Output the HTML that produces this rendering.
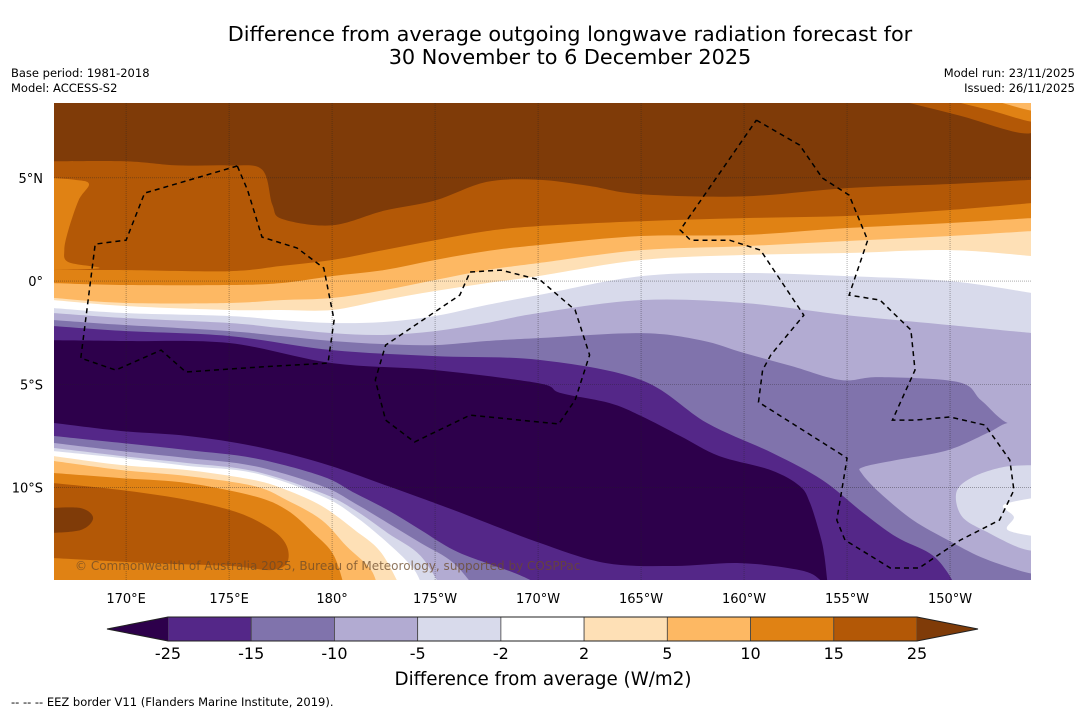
<!DOCTYPE html>
<html><head><meta charset="utf-8">
<style>
html,body{margin:0;padding:0;background:#fff;}
body{width:1085px;height:713px;overflow:hidden;font-family:"DejaVu Sans","Liberation Sans",sans-serif;}
svg text{font-family:"DejaVu Sans","Liberation Sans",sans-serif;}
</style></head>
<body>
<svg id="chart" width="1085" height="713" viewBox="0 0 1085 713" xmlns="http://www.w3.org/2000/svg">
  <text x="570" y="41" font-size="20.8" text-anchor="middle" fill="#000">Difference from average outgoing longwave radiation forecast for</text>
  <text x="570" y="64" font-size="20.8" text-anchor="middle" fill="#000">30 November to 6 December 2025</text>
  <text x="11" y="77" font-size="11.5">Base period: 1981-2018</text>
  <text x="11" y="92" font-size="11.5">Model: ACCESS-S2</text>
  <text x="1075" y="77" font-size="11.5" text-anchor="end">Model run: 23/11/2025</text>
  <text x="1075" y="92" font-size="11.5" text-anchor="end">Issued: 26/11/2025</text>
  <defs><clipPath id="mapclip"><rect x="54" y="103" width="977" height="477"/></clipPath></defs>
  <g id="map" clip-path="url(#mapclip)"></g>
  <g id="grid" clip-path="url(#mapclip)"></g>
  <g id="eez" clip-path="url(#mapclip)"></g>
  <text x="75" y="570" font-size="12" fill="#6b4a2a" fill-opacity="0.75">© Commonwealth of Australia 2025, Bureau of Meteorology, supported by COSPPac</text>
  <g id="axes"></g>
  <g id="cbar"></g>
  <text x="543" y="685" font-size="18.3" text-anchor="middle">Difference from average (W/m2)</text>
  <text x="11" y="706" font-size="11.5">--  --  -- EEZ border V11 (Flanders Marine Institute, 2019).</text>
</svg>
<script>
// ---- data: contour levels & colours ----
const levels = [-25,-15,-10,-5,-2,2,5,10,15,25];
const levelColors = ["#2d004b","#542788","#8073ac","#b2abd2","#d8daeb","#ffffff","#fee0b6","#fdb863","#e08214","#b35806","#7f3b08"];
const lonTicks = [170,175,180,185,190,195,200,205,210];
const lonTickLabels = ["170°E","175°E","180°","175°W","170°W","165°W","160°W","155°W","150°W"];
const latTicks = [5,0,-5,-10];
const latTickLabels = ["5°N","0°","5°S","10°S"];
// contour boundaries (upper edge of each band, lon/lat), northern side
const gridLon = [166.5,170,175,177.5,180,182.5,185,187.5,190,195,200,205,210,214];
const n1Lon = [166.5,170,172.5,175,176.6,177.1,177.6,180,182.5,185,187.5,190,192.5,195,200,205,210,214];
const n1Lat = [5.8,5.8,5.6,5.6,5.4,3.7,3.0,2.7,3.4,3.9,4.8,4.9,4.6,4.2,4.1,4.5,4.7,4.9];
const n2Lat = [0.53,0.53,0.48,0.73,1.02,1.5,1.98,2.42,2.66,2.9,3.05,3.15,3.44,3.78];
const n3Lat = [-0.1,-0.19,-0.19,-0.1,0.24,0.53,1.02,1.45,1.74,2.18,2.23,2.57,2.81,3.05];
const n4Lat = [-0.82,-1.06,-1.06,-0.92,-0.82,-0.44,0.05,0.53,0.87,1.5,1.69,1.94,2.18,2.42];
const n5Lat = [-0.92,-1.21,-1.4,-1.4,-1.4,-0.92,-0.48,-0.1,0.24,1.02,1.26,1.36,1.5,1.21];
const n6Lat = [-1.31,-1.55,-1.69,-1.89,-2.03,-1.98,-1.69,-1.16,-0.68,0.24,0.39,0.24,0,-0.58];
const n7Lat = [-1.55,-1.79,-2.03,-2.27,-2.52,-2.61,-2.42,-2.03,-1.55,-0.92,-1.06,-1.65,-2.13,-2.52];
const n8Lon = [166.5,170,175,177.5,180,182.5,185,187.5,190,195,197.9,200,202.3,204.7,206.6,210.4,211.5,212.8,214.2];
const n8Lat = [-1.89,-2.13,-2.42,-2.66,-2.9,-3.05,-3.1,-2.9,-2.76,-2.52,-2.86,-3.48,-4.11,-4.79,-4.65,-4.89,-5.76,-6.87,-6.87];
const n9Lon = [166.5,170,175,180,185,190.1,195,198.2,201.4,203.8,205.8,207.4,209,209.8,210.5];
const n9Lat = [-2.18,-2.42,-2.66,-3.34,-3.63,-3.82,-4.79,-6.87,-8.33,-9.63,-11.23,-12.39,-13.17,-13.99,-15.2];
const n10Lon = [166.5,170,175,180,185,190,191.1,193.5,195,196.9,198.8,201.3,202.7,203.2,203.7,203.9,204.1];
const n10Lat = [-2.86,-2.9,-3.0,-3.97,-4.31,-4.94,-5.42,-5.91,-6.53,-7.5,-8.47,-9.15,-9.92,-10.74,-12.34,-13.31,-15.1];
// southern side boundaries
const s1Lon = [166.5,169.8,173,176.2,179.5,182.7,185.9,190.1,193.3,196.6,199.8,202.7,203.7,204.2];
const s1Lat = [-6.87,-7.26,-7.5,-7.99,-8.81,-9.92,-11.08,-12.68,-13.65,-13.79,-13.65,-13.99,-14.47,-15.2];
const s2Lon = [166.5,169.8,173,176.2,179.5,181.1,182.7,184.3,185.9,187.5,189.1,191.1];
const s2Lat = [-7.5,-7.84,-8.18,-8.57,-9.44,-10.26,-11.08,-12.05,-13.02,-13.65,-14.23,-15.2];
const s3Lon = [166.5,169.8,173,176.2,179.5,181.1,182.7,184.3,185.9,187.2];
const s3Lat = [-7.84,-8.23,-8.57,-8.95,-9.92,-10.75,-11.71,-12.68,-13.65,-15.2];
const s4Lon = [166.5,169.8,173,176.2,179.5,181.1,182.7,184.3,185.5];
const s4Lat = [-8.08,-8.47,-8.81,-9.2,-10.26,-11.08,-12.2,-13.31,-15.2];
const s5Lon = [166.5,169.8,173,176.2,179.5,181.1,182.7,184,184.5];
const s5Lat = [-8.23,-8.57,-8.95,-9.29,-10.41,-11.37,-12.68,-13.99,-15.2];
const s6Lon = [166.5,169.8,173,176.2,177.8,179.5,181.1,182.4,183.5];
const s6Lat = [-8.47,-8.91,-9.15,-9.63,-10.12,-10.89,-12.05,-13.17,-15.2];
const s7Lon = [166.5,169.8,173,176.2,177.8,179.5,180.7,181.9,182.3];
const s7Lat = [-8.71,-9.15,-9.44,-9.92,-10.6,-11.57,-12.83,-13.99,-15.2];
const s8Lon = [166.5,169.8,173,176.2,177.8,179.1,180.1,180.7];
const s8Lat = [-9.29,-9.54,-9.78,-10.41,-11.08,-12.2,-13.31,-15.2];
// closed regions
const s9Lon = [166.5,169.8,173,175.5,177.1,177.8,177.8,177,175.1,171.2,166.5];
const s9Lat = [-9.78,-10.12,-10.6,-11.23,-12.05,-12.83,-13.65,-13.99,-13.79,-13.65,-13.41];
const swBlobLon = [166.2,167.8,168.4,167.8,166.2];
const swBlobLat = [-10.99,-10.99,-11.47,-12.05,-12.2];
const nwRimLon = [166.2,167.5,168.2,167.7,167.2,167,167.2,168.7,166.2];
const nwRimLat = [5.0,4.9,4.7,3.92,2.47,1.5,0.92,0.63,0.53];
const eastLobeLon = [214.3,212.8,211.9,209.9,207.4,205.8,205.7,206.6,208.2,209.9,211.5,213.3,214.3];
const eastLobeLat = [-6.73,-6.87,-7.31,-8.18,-8.66,-9.0,-9.29,-10.26,-11.57,-12.54,-13.36,-13.99,-14.23];
const eastLightLon = [214.3,212.6,211,210.3,210.6,211.9,213.3,214.3];
const eastLightLat = [-8.91,-9.0,-9.54,-10.26,-11.42,-12.2,-12.88,-13.12];
const eastWhiteLon = [214.3,212.6,213.1,212.8,214.3];
const eastWhiteLat = [-10.45,-10.84,-11.42,-12.05,-12.39];
const neALon = [207.3,210.4,213.9,214.3]; const neALat = [8.8,8.03,7.16,8.8];
const neBLon = [209.8,211.9,214.3,214.3]; const neBLat = [8.8,8.28,7.7,8.8];
const neCLon = [211.9,214.3,214.3]; const neCLat = [8.8,8.2,8.8];
// EEZ borders
const eez1Lon = [175.4,170.9,170,168.5,167.8,169.5,171.7,172.9,176.5,179.8,180.1,179.6,178.3,176.6,175.9,175.4];
const eez1Lat = [5.57,4.26,1.98,1.79,-3.73,-4.31,-3.34,-4.4,-4.16,-3.97,-1.89,0.63,1.6,2.13,4.4,5.57];
const eez2Lon = [186.7,188.2,190.1,191.8,192.5,191.8,191,186.7,184,182.6,182.1,182.6,186.2,186.7];
const eez2Lat = [0.44,0.53,0.05,-1.4,-3.58,-5.76,-6.92,-6.49,-7.79,-6.73,-4.79,-3.1,-0.68,0.44];
const eez3Lon = [200.6,202.7,203.8,205.1,206,205.1,206.6,208.1,208.3,207.2,208.3,210,211.7,212.9,213.1,212.4,210.5,208.5,207.1,204.9,204.5,205,200.7,200.9,201.3,202.9,200.8,199.3,197.4,196.9,200.6];
const eez3Lat = [7.79,6.58,4.99,4.16,1.98,-0.68,-0.92,-2.37,-4.31,-6.73,-6.73,-6.58,-6.97,-8.66,-10.12,-11.57,-12.54,-13.89,-13.89,-12.54,-11.57,-8.57,-5.86,-4.31,-3.58,-1.65,1.5,1.98,1.98,2.47,7.79];

// ---- axis functions ----
const X0=54, X1=1031, Y0=103, Y1=580;
const LON0=166.5, LON1=213.93, LAT0=8.62, LAT1=-14.47;
function xs(lon){return X0+(lon-LON0)/(LON1-LON0)*(X1-X0);}
function ys(lat){return Y0+(lat-LAT0)/(LAT1-LAT0)*(Y1-Y0);}
const NS="http://www.w3.org/2000/svg";
function smooth(pts){
  let d="M"+pts[0][0].toFixed(1)+","+pts[0][1].toFixed(1);
  for(let i=0;i<pts.length-1;i++){
    const p0=pts[Math.max(0,i-1)],p1=pts[i],p2=pts[i+1],p3=pts[Math.min(pts.length-1,i+2)];
    const c1=[p1[0]+(p2[0]-p0[0])/6,p1[1]+(p2[1]-p0[1])/6];
    const c2=[p2[0]-(p3[0]-p1[0])/6,p2[1]-(p3[1]-p1[1])/6];
    d+="C"+c1[0].toFixed(1)+","+c1[1].toFixed(1)+" "+c2[0].toFixed(1)+","+c2[1].toFixed(1)+" "+p2[0].toFixed(1)+","+p2[1].toFixed(1);
  }
  return d;
}
function pts(lons,lats){return lons.map((l,i)=>[xs(l),ys(lats[i])]);}
const map=document.getElementById('map');
function band(lons,lats,color,name){
  const p=pts(lons,lats);
  const first=p[0], last=p[p.length-1];
  let d="M"+(X0-20)+","+first[1].toFixed(1)+"L"+first[0].toFixed(1)+","+first[1].toFixed(1);
  d+=smooth(p).replace(/^M[^C]*/,"");
  d+="L"+(X1+20)+","+last[1].toFixed(1)+"L"+(X1+20)+","+(Y1+40)+"L"+(X0-20)+","+(Y1+40)+"Z";
  const e=document.createElementNS(NS,'path');
  e.setAttribute('d',d);e.setAttribute('fill',color);
  
  
  map.appendChild(e);
}
function region(lons,lats,color,name){
  const e=document.createElementNS(NS,'path');
  e.setAttribute('d',smooth(pts(lons,lats))+"Z");e.setAttribute('fill',color);
  
  
  map.appendChild(e);
}
const C=levelColors;
const bg=document.createElementNS(NS,'rect');
bg.setAttribute('x',X0);bg.setAttribute('y',Y0);bg.setAttribute('width',X1-X0);bg.setAttribute('height',Y1-Y0);bg.setAttribute('fill',C[10]);


map.appendChild(bg);
band(n1Lon,n1Lat,C[9],'band-15-25');
region(nwRimLon,nwRimLat,C[8],'region-10-15-northwest');
band(gridLon,n2Lat,C[8],'band-10-15');
band(gridLon,n3Lat,C[7],'band-5-10');
band(gridLon,n4Lat,C[6],'band-2-5');
band(gridLon,n5Lat,C[5],'band-neutral');
band(gridLon,n6Lat,C[4],'band-minus2-minus5');
band(gridLon,n7Lat,C[3],'band-minus5-minus10');
band(n8Lon,n8Lat,C[2],'band-minus10-minus15');
region(eastLobeLon,eastLobeLat,C[3],'region-minus5-minus10-east');
band(n9Lon,n9Lat,C[1],'band-minus15-minus25');
band(n10Lon,n10Lat,C[0],'band-below-minus25');
band(s1Lon,s1Lat,C[1],'band-south-minus15-minus25');
band(s2Lon,s2Lat,C[2],'band-south-minus10-minus15');
band(s3Lon,s3Lat,C[3],'band-south-minus5-minus10');
band(s4Lon,s4Lat,C[4],'band-south-minus2-minus5');
band(s5Lon,s5Lat,C[5],'band-south-neutral');
band(s6Lon,s6Lat,C[6],'band-south-2-5');
band(s7Lon,s7Lat,C[7],'band-south-5-10');
band(s8Lon,s8Lat,C[8],'band-south-10-15');
region(s9Lon,s9Lat,C[9],'region-south-15-25');
region(swBlobLon,swBlobLat,C[10],'region-southwest-above-25');
region(eastLightLon,eastLightLat,C[4],'region-minus2-minus5-east');
region(eastWhiteLon,eastWhiteLat,C[5],'region-neutral-east');
region(neALon,neALat,C[9],'region-northeast-15-25');
region(neBLon,neBLat,C[8],'region-northeast-10-15');
region(neCLon,neCLat,C[7],'region-northeast-5-10');

// graticule & axes labels
const grid=document.getElementById('grid'), axes=document.getElementById('axes');
lonTicks.forEach((lon,i)=>{
  const l=document.createElementNS(NS,'line');
  l.setAttribute('x1',xs(lon));l.setAttribute('x2',xs(lon));l.setAttribute('y1',Y0);l.setAttribute('y2',Y1);
  l.setAttribute('stroke','#222');l.setAttribute('stroke-width','0.6');l.setAttribute('stroke-opacity','0.6');l.setAttribute('stroke-dasharray','1,1');
  
  
  grid.appendChild(l);
  const t=document.createElementNS(NS,'text');
  t.setAttribute('x',xs(lon));t.setAttribute('y',603);t.setAttribute('font-size','13');t.setAttribute('text-anchor','middle');
  t.textContent=lonTickLabels[i];
  
  
  axes.appendChild(t);
});
latTicks.forEach((lat,i)=>{
  const l=document.createElementNS(NS,'line');
  l.setAttribute('y1',ys(lat));l.setAttribute('y2',ys(lat));l.setAttribute('x1',X0);l.setAttribute('x2',X1);
  l.setAttribute('stroke','#222');l.setAttribute('stroke-width','0.6');l.setAttribute('stroke-opacity','0.6');l.setAttribute('stroke-dasharray','1,1');
  
  
  grid.appendChild(l);
  const t=document.createElementNS(NS,'text');
  t.setAttribute('x',43);t.setAttribute('y',ys(lat)+5);t.setAttribute('font-size','13');t.setAttribute('text-anchor','end');
  t.textContent=latTickLabels[i];
  
  
  axes.appendChild(t);
});
// EEZ
const eez=document.getElementById('eez');
[[eez1Lon,eez1Lat],[eez2Lon,eez2Lat],[eez3Lon,eez3Lat]].forEach((a,i)=>{
  const p=document.createElementNS(NS,'polyline');
  p.setAttribute('points',pts(a[0],a[1]).map(q=>q[0].toFixed(1)+","+q[1].toFixed(1)).join(" "));
  p.setAttribute('fill','none');p.setAttribute('stroke','#000');p.setAttribute('stroke-width','1.5');p.setAttribute('stroke-dasharray','5,4');
  
  
  eez.appendChild(p);
});
// colorbar
const cb=document.getElementById('cbar');
const CB0=168, CB1=917, CBY=617, CBH=24;
function cx(i){return CB0+i*(CB1-CB0)/(levels.length-1);}
for(let i=0;i<levels.length-1;i++){
  const r=document.createElementNS(NS,'rect');
  r.setAttribute('x',cx(i));r.setAttribute('y',CBY);r.setAttribute('width',cx(i+1)-cx(i));r.setAttribute('height',CBH);
  r.setAttribute('fill',C[i+1]);r.setAttribute('stroke','#444');r.setAttribute('stroke-width','0.8');
  
  
  cb.appendChild(r);
}
const tl=document.createElementNS(NS,'polygon');
tl.setAttribute('points',`${CB0},${CBY} ${CB0-61},${CBY+CBH/2} ${CB0},${CBY+CBH}`);tl.setAttribute('fill',C[0]);


cb.appendChild(tl);
const tr=document.createElementNS(NS,'polygon');
tr.setAttribute('points',`${CB1},${CBY} ${CB1+61},${CBY+CBH/2} ${CB1},${CBY+CBH}`);tr.setAttribute('fill',C[10]);


cb.appendChild(tr);
const fr=document.createElementNS(NS,'path');
fr.setAttribute('d',`M${CB0},${CBY}L${CB0-61},${CBY+CBH/2}L${CB0},${CBY+CBH}L${CB1},${CBY+CBH}L${CB1+61},${CBY+CBH/2}L${CB1},${CBY}Z`);
fr.setAttribute('fill','none');fr.setAttribute('stroke','#222');fr.setAttribute('stroke-width','1');


cb.appendChild(fr);
levels.forEach((v,i)=>{
  const t=document.createElementNS(NS,'text');
  t.setAttribute('x',cx(i));t.setAttribute('y',659);t.setAttribute('font-size','16');t.setAttribute('text-anchor','middle');
  t.textContent=String(v);
  
  
  cb.appendChild(t);
});
</script>
</body></html>
